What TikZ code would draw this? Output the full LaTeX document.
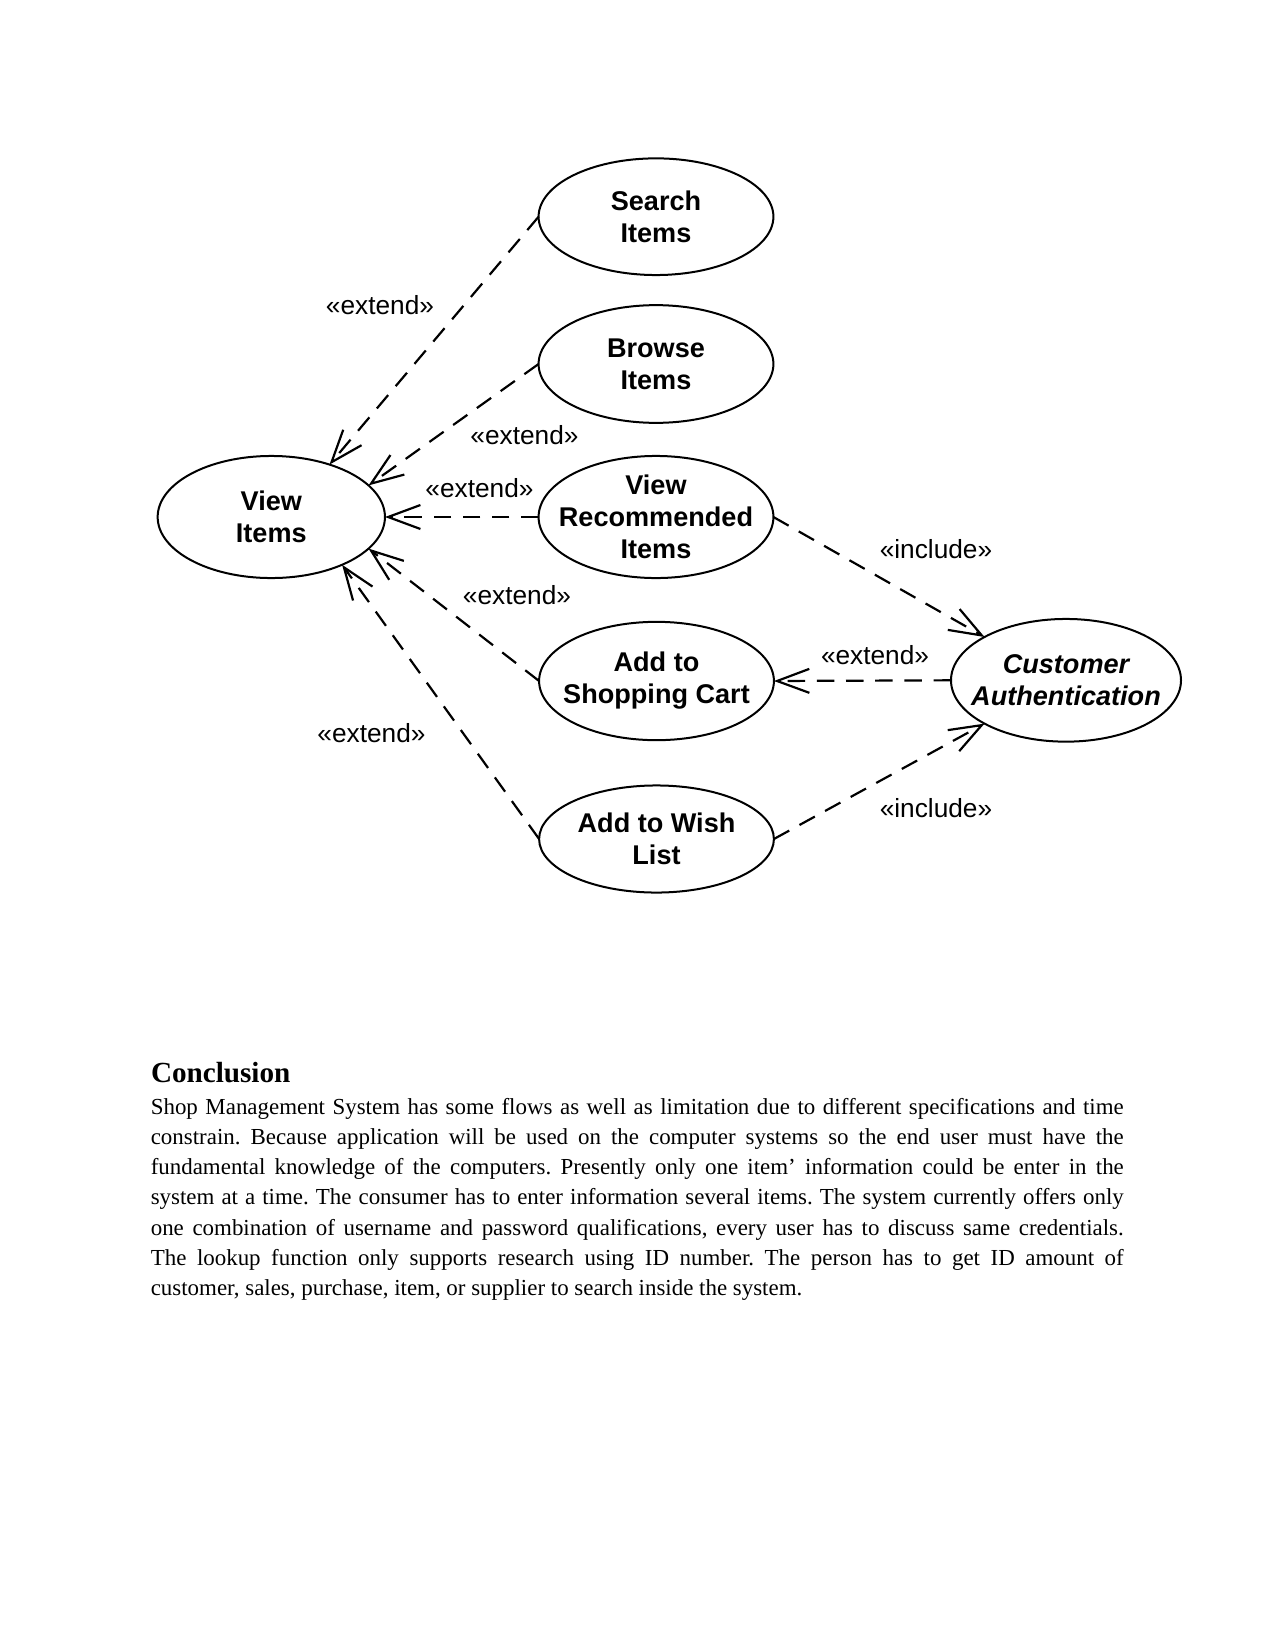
\documentclass[tikz,border=0pt]{standalone}
\usepackage{fontspec}
\setmainfont{Liberation Serif}
\newfontfamily\ucfont{Liberation Sans}
\usetikzlibrary{arrows.meta,shapes.geometric}
\tikzset{
  usecase/.style={ellipse,draw=black,line width=0.96bp,inner xsep=-24bp,inner ysep=-14bp,outer sep=0pt,minimum width=112.7bp,align=center,font=\ucfont\fontsize{13bp}{15.4bp}\selectfont\bfseries},
  stereo/.style={inner sep=0pt,font=\ucfont\fontsize{12.6bp}{15bp}\selectfont},
  dep/.style={draw=black,line width=1.05bp,dash pattern=on 8.4bp off 5.6bp,-{Straight Barb[length=15.5bp,width=11.5bp]}},
  heading/.style={anchor=base west,inner sep=0pt,font=\fontsize{14bp}{16bp}\selectfont\bfseries},
  body/.style={anchor=base west,inner sep=0pt,text width=467bp,align=justify,font=\fontsize{11bp}{14.5bp}\selectfont}
}

\begin{document}
\begin{tikzpicture}[x=0.48bp,y=-0.48bp]
\path[use as bounding box] (0,0) rectangle (1275,1650);

% use cases
\node[usecase,minimum height=56bp] (search) at (656,216.7) {Search\\Items};
\node[usecase,minimum height=56.5bp] (browse) at (656,364) {Browse\\Items};
\node[usecase,minimum height=58.6bp] (viewrec) at (656,517) {View\\Recommended\\Items};
\node[usecase,minimum width=109.1bp,minimum height=58.6bp] (viewitems) at (271.3,517) {View\\Items};
\node[usecase,minimum height=56.8bp] (addcart) at (656.5,681) {Add to\\Shopping Cart};
\node[usecase,minimum height=51.4bp] (wishlist) at (656.5,839) {Add to Wish\\List};
\node[usecase,minimum width=110.4bp,minimum height=58.9bp,font=\ucfont\fontsize{13bp}{15.4bp}\selectfont\bfseries\itshape] (custauth) at (1066,680.3) {Customer\\Authentication};

% dependencies
\draw[dep] (search.west) -- (viewitems.42);
\draw[dep] (browse.west) -- (viewitems.18);
\draw[dep] (viewrec.west) -- (viewitems.east);
\draw[dep] (addcart.west) -- (viewitems.-18);
\draw[dep] (wishlist.west) -- (viewitems.-34);
\draw[dep] (viewrec.east) -- (custauth.152);
\draw[dep] (custauth.west) -- (addcart.east);
\draw[dep] (wishlist.east) -- (custauth.208);

\node[stereo] (ext-search) at (380,305) {«extend»};
\node[stereo] (ext-browse) at (524.5,435) {«extend»};
\node[stereo] (ext-viewrec) at (479.5,488) {«extend»};
\node[stereo] (ext-cart) at (517,595) {«extend»};
\node[stereo] (ext-wish) at (371.5,733) {«extend»};
\node[stereo] (inc-viewrec) at (936,549) {«include»};
\node[stereo] (ext-auth) at (875,655) {«extend»};
\node[stereo] (inc-wish) at (936,808) {«include»};

% text below
\node[heading] (concl-title) at (150.6,1082.3) {Conclusion};
\node[body] (concl-text) at (150.4,1114.3) {\frenchspacing\hyphenpenalty=10000
Shop Management System has some flows as well as limitation due to different specifications and time\linebreak
constrain. Because application will be used on the computer systems so the end user must have the\linebreak
fundamental knowledge of the computers. Presently only one item’ information could be enter in the\linebreak
system at a time. The consumer has to enter information several items. The system currently offers only\linebreak
one combination of username and password qualifications, every user has to discuss same credentials.\linebreak
The lookup function only supports research using ID number. The person has to get ID amount of\linebreak
customer, sales, purchase, item, or supplier to search inside the system.};
\end{tikzpicture}
\end{document}
